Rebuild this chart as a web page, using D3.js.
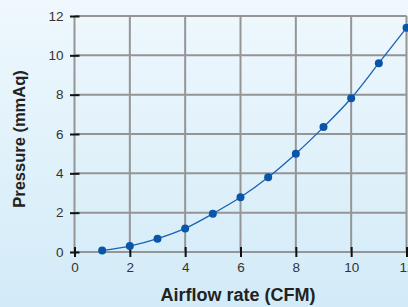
<!DOCTYPE html>
<html>
<head>
<meta charset="utf-8">
<script src="https://cdn.jsdelivr.net/npm/d3@7"></script>
<style>
  html, body { margin: 0; padding: 0; }
  body { width: 408px; height: 307px; overflow: hidden; }
  text { font-family: "Liberation Sans", Arial, sans-serif; }
</style>
</head>
<body>
<svg id="chart" width="408" height="307"></svg>
<script>
// airflow (CFM) vs pressure (mmAq)
var airflow  = [1, 2, 3, 4, 5, 6, 7, 8, 9, 10, 11, 12];
var pressure = [0.08, 0.3, 0.68, 1.2, 1.95, 2.78, 3.8, 5.0, 6.35, 7.82, 9.6, 11.4];
var xTicks = [0, 2, 4, 6, 8, 10, 12];
var yTicks = [0, 2, 4, 6, 8, 10, 12];

var svgWidth = 408, svgHeight = 307;
var margin = {top: 16, right: 2, bottom: 55, left: 74.5};
var width = svgWidth - margin.left - margin.right;
var height = svgHeight - margin.top - margin.bottom;

var svg = d3.select("#chart");

// background gradient
var grad = svg.append("defs").append("linearGradient")
    .attr("id", "bg").attr("x1", 0).attr("y1", 0).attr("x2", 0).attr("y2", 1);
grad.append("stop").attr("offset", "0%").attr("stop-color", "#eff8fd");
grad.append("stop").attr("offset", "100%").attr("stop-color", "#d2ebf8");
svg.append("rect").attr("width", svgWidth).attr("height", svgHeight).attr("fill", "url(#bg)");

var chart = svg.append("g")
    .attr("transform", "translate(" + margin.left + "," + margin.top + ")");

var x = d3.scaleLinear().domain([0, 12]).range([0, 332]);
var y = d3.scaleLinear().domain([0, 12]).range([height, 0]);

// grid
chart.append("g").selectAll("line")
    .data(xTicks).enter().append("line")
    .attr("x1", function(d) { return x(d); })
    .attr("x2", function(d) { return x(d); })
    .attr("y1", 0).attr("y2", height)
    .attr("stroke", "#959595").attr("stroke-width", 2);

chart.append("g").selectAll("line")
    .data(yTicks).enter().append("line")
    .attr("y1", function(d) { return y(d); })
    .attr("y2", function(d) { return y(d); })
    .attr("x1", 0).attr("x2", x(12))
    .attr("stroke", "#959595").attr("stroke-width", 2);

// axes (black crossing ticks)
var bottomAxis = d3.axisBottom(x).tickValues(xTicks).tickSize(0).tickPadding(10);
var leftAxis = d3.axisLeft(y).tickValues(yTicks).tickSize(0).tickPadding(11);

var gx = chart.append("g")
    .attr("transform", "translate(0," + height + ")")
    .call(bottomAxis);
gx.select(".domain").remove();
gx.selectAll(".tick").append("line")
    .attr("y1", -5).attr("y2", 5)
    .attr("stroke", "#111").attr("stroke-width", 2);
gx.selectAll("text").attr("font-size", 13.5).attr("fill", "#333");

var gy = chart.append("g").call(leftAxis);
gy.select(".domain").remove();
gy.selectAll(".tick").append("line")
    .attr("x1", -4.5).attr("x2", 5)
    .attr("stroke", "#111").attr("stroke-width", 2);
gy.selectAll("text").attr("font-size", 13.5).attr("fill", "#333");

// curve
var line = d3.line()
    .x(function(d, i) { return x(airflow[i]); })
    .y(function(d) { return y(d); })
    .curve(d3.curveMonotoneX);

chart.append("path")
    .datum(pressure)
    .attr("d", line)
    .attr("fill", "none")
    .attr("stroke", "#1a62b4")
    .attr("stroke-width", 1.3);

chart.selectAll("circle")
    .data(pressure).enter().append("circle")
    .attr("cx", function(d, i) { return x(airflow[i]); })
    .attr("cy", function(d) { return y(d); })
    .attr("r", 4)
    .attr("fill", "#0b55a8");

// axis titles
svg.append("text")
    .attr("x", 238).attr("y", 301)
    .attr("text-anchor", "middle")
    .attr("font-size", 18).attr("font-weight", "bold").attr("fill", "#222")
    .text("Airflow rate (CFM)");

svg.append("text")
    .attr("transform", "translate(25,139) rotate(-90)")
    .attr("text-anchor", "middle")
    .attr("font-size", 16.5).attr("font-weight", "bold").attr("fill", "#222")
    .text("Pressure (mmAq)");
</script>
</body>
</html>
